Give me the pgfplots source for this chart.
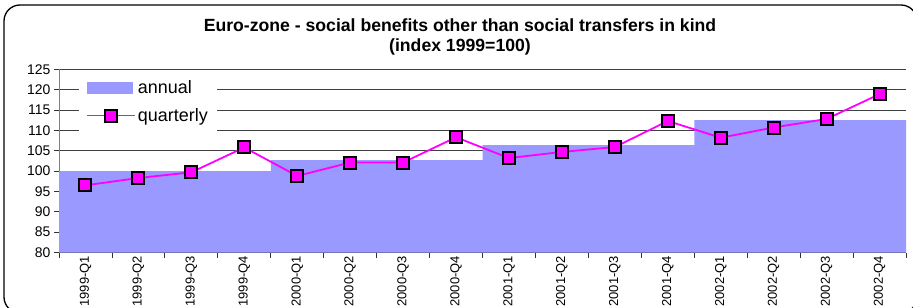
\documentclass[border=0pt]{standalone}
\usepackage{fontspec}
\setmainfont{Liberation Sans}
\usepackage{pgfplots}
\pgfplotsset{compat=1.18}
\definecolor{areablue}{HTML}{9999FF}
\definecolor{mag}{HTML}{FF00FF}
\pgfplotsset{
  areaLeg/.style={legend image code/.code={\fill[areablue] (0bp,-6bp) rectangle (46bp,6bp);}},
  lineLeg/.style={legend image code/.code={\draw[mag, line width=1.8bp] (0bp,0bp) -- (48bp,0bp);
     \draw[mark repeat=2,mark phase=2,##1] plot coordinates {(0bp,0bp) (24bp,0bp) (48bp,0bp)};}},
}
\begin{document}
\begin{tikzpicture}[x=1bp,y=1bp]
\useasboundingbox (0,0) rectangle (913,307);
\clip (0,0) rectangle (913,307);
\draw[line width=1.3bp, rounded corners=16bp] (4,-6) rectangle (917,302);
\node[font=\fontsize{17.7}{20}\selectfont\bfseries] at (460,282) {Euro-zone - social benefits other than social transfers in kind};
\node[font=\fontsize{17.7}{20}\selectfont\bfseries] at (460,260) {(index 1999=100)};
\begin{axis}[
  at={(59bp,54.5bp)}, anchor=south west,
  scale only axis, width=847bp, height=183.2bp,
  xmin=-0.5, xmax=15.5, ymin=80, ymax=125,
  axis x line*=bottom, axis y line*=left,
  x axis line style={-, draw=black!80, line width=0.8bp},
  y axis line style={-, draw=gray, line width=1bp},
  ytick={80,85,...,125},
  ymajorgrids, grid style={draw=black!75, line width=0.8bp},
  xtick={-0.5,0.5,...,15.5}, xticklabels={},
  extra x ticks={0,1,...,15},
  extra x tick labels={1999-Q1,1999-Q2,1999-Q3,1999-Q4,2000-Q1,2000-Q2,2000-Q3,2000-Q4,2001-Q1,2001-Q2,2001-Q3,2001-Q4,2002-Q1,2002-Q2,2002-Q3,2002-Q4},
  extra x tick style={major tick length=0pt, tick label style={rotate=90, anchor=east, font=\fontsize{13}{14}\selectfont}},
  tick align=outside, major tick length=5bp,
  tick style={black!80, line width=0.8bp},
  yticklabel style={font=\fontsize{14}{15}\selectfont},
  /pgf/number format/assume math mode=true,
  legend style={at={(rel axis cs:0.0236,0.982)}, anchor=north west, draw=none, fill=white,
    font=\fontsize{18}{20}\selectfont, row sep=9bp, inner xsep=7bp, inner ysep=6bp,
    nodes={inner sep=2bp}},
  legend cell align=left,
  clip=false,
]
\addplot[const plot mark left, fill=areablue, draw=none, areaLeg]
  coordinates {(-0.5,100) (3.5,102.7) (7.5,106.4) (11.5,112.5) (15.5,112.5)} \closedcycle;
\addlegendentry{annual}
\addplot[mag, line width=1.8bp, mark=square*, mark size=6bp,
  mark options={fill=mag, draw=black, line width=2bp}, lineLeg]
  coordinates {(0,96.5) (1,98.3) (2,99.7) (3,105.8) (4,98.8) (5,102.1) (6,102.1) (7,108.3)
   (8,103.2) (9,104.7) (10,105.9) (11,112.3) (12,108.2) (13,110.7) (14,112.8) (15,118.9)};
\addlegendentry{quarterly}
\end{axis}
\end{tikzpicture}
\end{document}
